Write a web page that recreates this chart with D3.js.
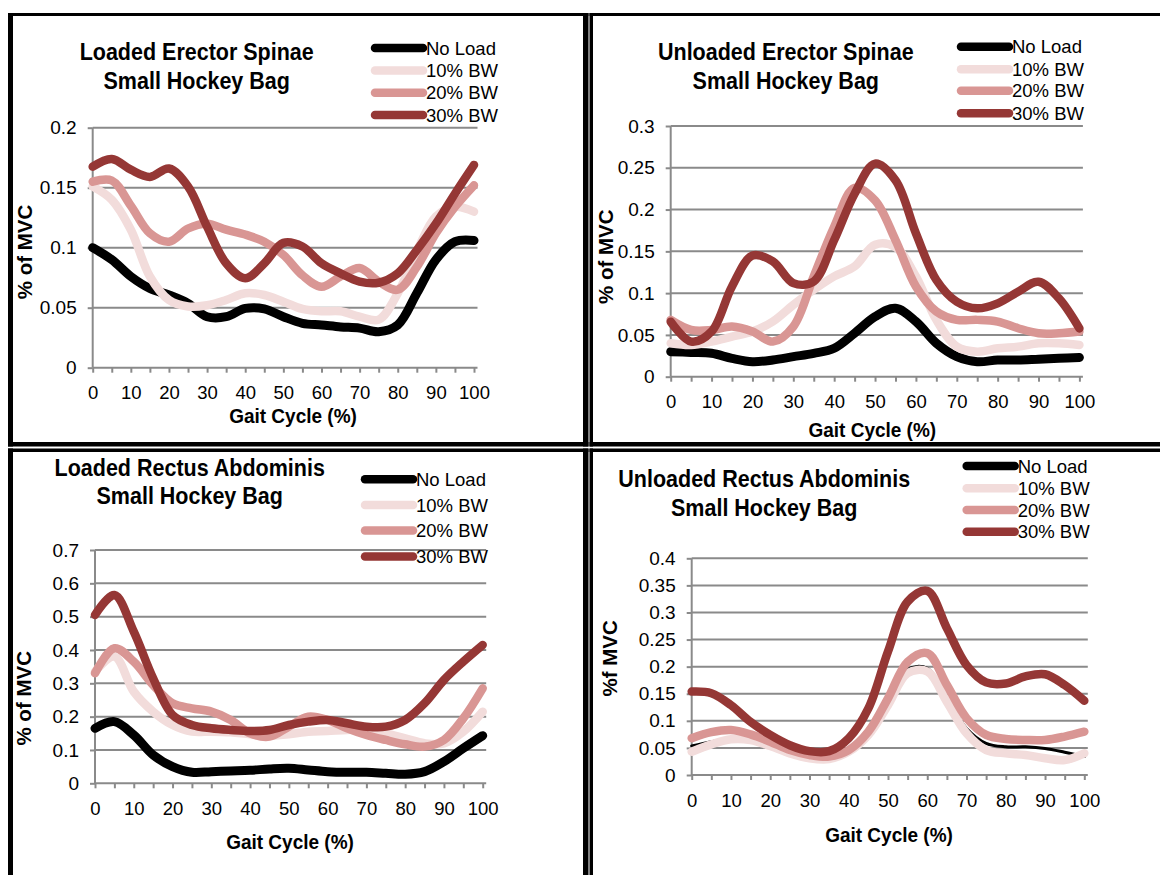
<!DOCTYPE html>
<html>
<head>
<meta charset="utf-8">
<script src="https://cdn.jsdelivr.net/npm/d3@7"></script>
<style>
  html, body { margin: 0; padding: 0; background: #fff; }
  svg { display: block; font-family: "Liberation Sans", Arial, sans-serif; }
</style>
</head>
<body>
<svg id="chart" width="1160" height="875"></svg>
<script>
// Gait cycle sample points (%)
const gaitCycle = [0, 5, 10, 15, 20, 25, 30, 35, 40, 45, 50, 55, 60, 65, 70, 75, 80, 85, 90, 95, 100];
const seriesNames = ["No Load", "10% BW", "20% BW", "30% BW"];

// Loaded erector spinae (% of MVC)
const loadedESNoLoad = [0.100, 0.090, 0.076, 0.066, 0.0606, 0.0536, 0.0425, 0.0425, 0.0494, 0.049, 0.0425, 0.037, 0.0356, 0.034, 0.033, 0.030, 0.0356, 0.062, 0.090, 0.105, 0.106];
const loadedES10 = [0.151, 0.140, 0.115, 0.076, 0.0564, 0.051, 0.052, 0.0564, 0.062, 0.0606, 0.055, 0.049, 0.047, 0.047, 0.0425, 0.040, 0.062, 0.097, 0.126, 0.134, 0.130];
const loadedES20 = [0.155, 0.156, 0.135, 0.112, 0.105, 0.116, 0.120, 0.115, 0.111, 0.105, 0.094, 0.077, 0.0675, 0.076, 0.083, 0.0717, 0.065, 0.084, 0.112, 0.134, 0.152];
const loadedES30 = [0.1675, 0.174, 0.165, 0.159, 0.166, 0.151, 0.1175, 0.087, 0.0745, 0.087, 0.104, 0.101, 0.087, 0.0786, 0.0717, 0.0708, 0.0786, 0.098, 0.120, 0.145, 0.169];

// Unloaded erector spinae (% of MVC)
const unloadedESNoLoad = [0.030, 0.029, 0.028, 0.022, 0.018, 0.020, 0.024, 0.028, 0.034, 0.052, 0.0718, 0.0818, 0.066, 0.040, 0.024, 0.018, 0.020, 0.020, 0.021, 0.022, 0.023];
const unloadedES10 = [0.040, 0.038, 0.042, 0.048, 0.054, 0.066, 0.086, 0.104, 0.120, 0.132, 0.158, 0.155, 0.120, 0.068, 0.036, 0.030, 0.034, 0.036, 0.040, 0.040, 0.038];
const unloadedES20 = [0.068, 0.056, 0.056, 0.060, 0.054, 0.042, 0.060, 0.120, 0.1795, 0.226, 0.211, 0.1635, 0.108, 0.078, 0.068, 0.068, 0.066, 0.058, 0.052, 0.052, 0.054];
const unloadedES30 = [0.0658, 0.042, 0.054, 0.108, 0.145, 0.138, 0.112, 0.114, 0.1635, 0.219, 0.255, 0.235, 0.1715, 0.1157, 0.0897, 0.0818, 0.0878, 0.1017, 0.1137, 0.0937, 0.0578];

// Loaded rectus abdominis (% of MVC)
const loadedRANoLoad = [0.165, 0.185, 0.145, 0.085, 0.050, 0.033, 0.035, 0.037, 0.039, 0.043, 0.045, 0.040, 0.035, 0.033, 0.033, 0.030, 0.027, 0.035, 0.065, 0.105, 0.143];
const loadedRA10 = [0.335, 0.380, 0.275, 0.215, 0.175, 0.155, 0.155, 0.153, 0.147, 0.143, 0.147, 0.155, 0.157, 0.160, 0.160, 0.150, 0.135, 0.120, 0.120, 0.155, 0.215];
const loadedRA20 = [0.330, 0.405, 0.365, 0.295, 0.240, 0.225, 0.215, 0.190, 0.150, 0.140, 0.170, 0.200, 0.190, 0.165, 0.145, 0.130, 0.117, 0.110, 0.130, 0.195, 0.285];
const loadedRA30 = [0.505, 0.565, 0.455, 0.315, 0.205, 0.175, 0.165, 0.160, 0.157, 0.160, 0.175, 0.185, 0.190, 0.180, 0.170, 0.170, 0.190, 0.240, 0.310, 0.365, 0.415];

// Unloaded rectus abdominis (% of MVC)
const unloadedRANoLoad = [0.0535, 0.0615, 0.0665, 0.063, 0.0505, 0.037, 0.0277, 0.026, 0.040, 0.074, 0.132, 0.195, 0.197, 0.1415, 0.086, 0.0585, 0.052, 0.052, 0.049, 0.042, 0.034];
const unloadedRA10 = [0.043, 0.0566, 0.066, 0.0646, 0.0535, 0.040, 0.031, 0.0295, 0.043, 0.074, 0.129, 0.188, 0.191, 0.135, 0.077, 0.046, 0.040, 0.037, 0.031, 0.0277, 0.040];
const unloadedRA20 = [0.068, 0.079, 0.083, 0.075, 0.0615, 0.046, 0.037, 0.034, 0.046, 0.080, 0.1415, 0.209, 0.225, 0.166, 0.105, 0.074, 0.0665, 0.0646, 0.0646, 0.071, 0.080];
const unloadedRA30 = [0.154, 0.151, 0.129, 0.098, 0.074, 0.055, 0.044, 0.044, 0.068, 0.123, 0.228, 0.320, 0.340, 0.271, 0.203, 0.171, 0.169, 0.182, 0.186, 0.166, 0.137];

// Y-axis tick labels per chart
const ticksES1 = [0, 0.05, 0.1, 0.15, 0.2];
const ticksES2 = [0, 0.05, 0.1, 0.15, 0.2, 0.25, 0.3];
const ticksRA1 = [0, 0.1, 0.2, 0.3, 0.4, 0.5, 0.6, 0.7];
const ticksRA2 = [0, 0.05, 0.1, 0.15, 0.2, 0.25, 0.3, 0.35, 0.4];
const xTickLabels = [0, 10, 20, 30, 40, 50, 60, 70, 80, 90, 100];

const colors = ["#000000", "#f2dcdb", "#d99694", "#953735"];
const FONT = "'Liberation Sans', Arial, sans-serif";

const panels = [
  {
    title: ["Loaded Erector Spinae", "Small Hockey Bag"], yTitle: "% of MVC",
    series: [loadedESNoLoad, loadedES10, loadedES20, loadedES30], yTicks: ticksES1,
    x0: 92.7, x1: 474, yB: 367.7, yT: 127.7,
    titleX: 196.7, titleY: [52, 81],
    legX: 375, legY: [48, 70.5, 92.7, 115],
    yTitleX: 24, yTitleY: 252, xTitleX: 293, xTitleY: 416,
    lineW: [9, 8.5, 8.5, 8.5]
  },
  {
    title: ["Unloaded Erector Spinae", "Small Hockey Bag"], yTitle: "% of MVC",
    series: [unloadedESNoLoad, unloadedES10, unloadedES20, unloadedES30], yTicks: ticksES2,
    x0: 670.7, x1: 1079.4, yB: 376.7, yT: 126,
    titleX: 785.8, titleY: [52, 81],
    legX: 961, legY: [46.7, 69.3, 90.7, 113.3],
    yTitleX: 605.7, yTitleY: 256.7, xTitleX: 872.3, xTitleY: 429.3,
    lineW: [9, 8.5, 8.5, 8.5]
  },
  {
    title: ["Loaded Rectus Abdominis", "Small Hockey Bag"], yTitle: "% of MVC",
    series: [loadedRANoLoad, loadedRA10, loadedRA20, loadedRA30], yTicks: ticksRA1,
    x0: 95, x1: 482.7, yB: 783.3, yT: 550,
    titleX: 189.7, titleY: [468.3, 495.7],
    legX: 365, legY: [479.3, 505, 530.5, 556.5],
    yTitleX: 23.3, yTitleY: 698.3, xTitleX: 290, xTitleY: 841.7,
    lineW: [9, 8.5, 8.5, 8.5]
  },
  {
    title: ["Unloaded Rectus Abdominis", "Small Hockey Bag"], yTitle: "%f MVC",
    series: [unloadedRANoLoad, unloadedRA10, unloadedRA20, unloadedRA30], yTicks: ticksRA2,
    x0: 691.7, x1: 1084.3, yB: 775, yT: 558.3,
    titleX: 764.2, titleY: [479.3, 507.7],
    legX: 966.7, legY: [466, 488.3, 510, 531.7],
    yTitleX: 609, yTitleY: 658.3, xTitleX: 889, xTitleY: 834.3,
    lineW: [3, 8.5, 8.5, 8.5]
  }
];

const svg = d3.select("#chart");

// Panel frames (black borders around each chart)
const frames = [
  [8, 13, 5, 433.5], [8, 13, 580.5, 3], [583, 13, 5.5, 433.5], [8, 442, 580.5, 4.5],
  [589.5, 13, 3.5, 433.5], [589.5, 13, 575, 3], [589.5, 442, 575, 4.5],
  [8, 448.5, 580.5, 3.5], [8, 448.5, 5, 430], [583, 448.5, 5.5, 430],
  [589.5, 448.5, 575, 3.5], [589.5, 448.5, 3.5, 430]
];
svg.append("g").selectAll("rect").data(frames).join("rect")
  .attr("x", d => d[0]).attr("y", d => d[1])
  .attr("width", d => d[2]).attr("height", d => d[3])
  .attr("fill", "#000");

const fmt = v => String(+v.toFixed(2));

panels.forEach(p => {
  const g = svg.append("g");
  const yMax = p.yTicks[p.yTicks.length - 1];
  const x = d3.scaleLinear().domain([0, 100]).range([p.x0, p.x1]);
  const y = d3.scaleLinear().domain([0, yMax]).range([p.yB, p.yT]);
  const gridRight = p.x1 + 3.5;

  // Horizontal gridlines
  g.append("g").selectAll("line").data(p.yTicks.filter(t => t > 0)).join("line")
    .attr("x1", p.x0).attr("x2", gridRight)
    .attr("y1", d => y(d)).attr("y2", d => y(d))
    .attr("stroke", "#8a8a8a").attr("stroke-width", 2);

  // Y axis
  const yAxis = g.append("g").attr("transform", `translate(${p.x0},0)`)
    .call(d3.axisLeft(y).tickValues(p.yTicks).tickFormat(fmt).tickSize(5).tickPadding(11));
  yAxis.select(".domain").attr("stroke", "#8a8a8a").attr("stroke-width", 2)
    .attr("d", `M0,${p.yB}V${p.yT}`);
  yAxis.selectAll(".tick line").attr("stroke", "#8a8a8a").attr("stroke-width", 2);
  yAxis.selectAll(".tick text").attr("font-size", 19).attr("font-family", FONT).attr("fill", "#000");

  // X axis: minor ticks every 5, labels every 10
  const xAxis = g.append("g").attr("transform", `translate(0,${p.yB})`)
    .call(d3.axisBottom(x).tickValues(gaitCycle)
      .tickFormat(d => xTickLabels.includes(d) ? String(d) : "")
      .tickSize(5).tickPadding(13.5));
  xAxis.select(".domain").attr("stroke", "#8a8a8a").attr("stroke-width", 2)
    .attr("d", `M${p.x0},0H${gridRight}`);
  xAxis.selectAll(".tick line").attr("stroke", "#8a8a8a").attr("stroke-width", 2);
  xAxis.selectAll(".tick text").attr("font-size", 18.5).attr("font-family", FONT).attr("fill", "#000");

  // Smoothed series lines
  const line = d3.line()
    .x((d, i) => x(gaitCycle[i]))
    .y(d => y(d))
    .curve(d3.curveCatmullRom.alpha(0.5));
  g.append("g").selectAll("path").data(p.series).join("path")
    .attr("d", d => line(d))
    .attr("fill", "none")
    .attr("stroke", (d, i) => colors[i])
    .attr("stroke-width", (d, i) => p.lineW[i])
    .attr("stroke-linecap", "round")
    .attr("stroke-linejoin", "round");

  // Title (two lines, slightly tall lettering)
  const tg = g.append("g").attr("transform", `translate(${p.titleX},${p.titleY[0]}) scale(1,1.1)`);
  tg.selectAll("text").data(p.title).join("text")
    .attr("x", 0).attr("y", (d, i) => (p.titleY[i] - p.titleY[0]) / 1.1)
    .attr("text-anchor", "middle").attr("dominant-baseline", "central")
    .attr("font-family", FONT).attr("font-weight", "bold").attr("font-size", 21.5)
    .text(d => d);

  // Legend
  const leg = g.append("g").selectAll("g").data(seriesNames).join("g")
    .attr("transform", (d, i) => `translate(${p.legX},${p.legY[i]})`);
  leg.append("line").attr("x1", 0).attr("x2", 48).attr("y1", 0).attr("y2", 0)
    .attr("stroke", (d, i) => colors[i]).attr("stroke-width", 8.5).attr("stroke-linecap", "round");
  leg.append("text").attr("x", 51).attr("y", 0)
    .attr("dominant-baseline", "central")
    .attr("font-family", FONT).attr("font-size", 18.5).text(d => d);

  // Axis titles
  g.append("text")
    .attr("transform", `translate(${p.yTitleX},${p.yTitleY}) rotate(-90)`)
    .attr("text-anchor", "middle").attr("dominant-baseline", "central")
    .attr("font-family", FONT).attr("font-weight", "bold").attr("font-size", 20.5)
    .text(p.yTitle);
  g.append("text")
    .attr("transform", `translate(${p.xTitleX},${p.xTitleY}) scale(1,1.08)`)
    .attr("text-anchor", "middle").attr("dominant-baseline", "central")
    .attr("font-family", FONT).attr("font-weight", "bold").attr("font-size", 19)
    .text("Gait Cycle (%)");
});
</script>
</body>
</html>
